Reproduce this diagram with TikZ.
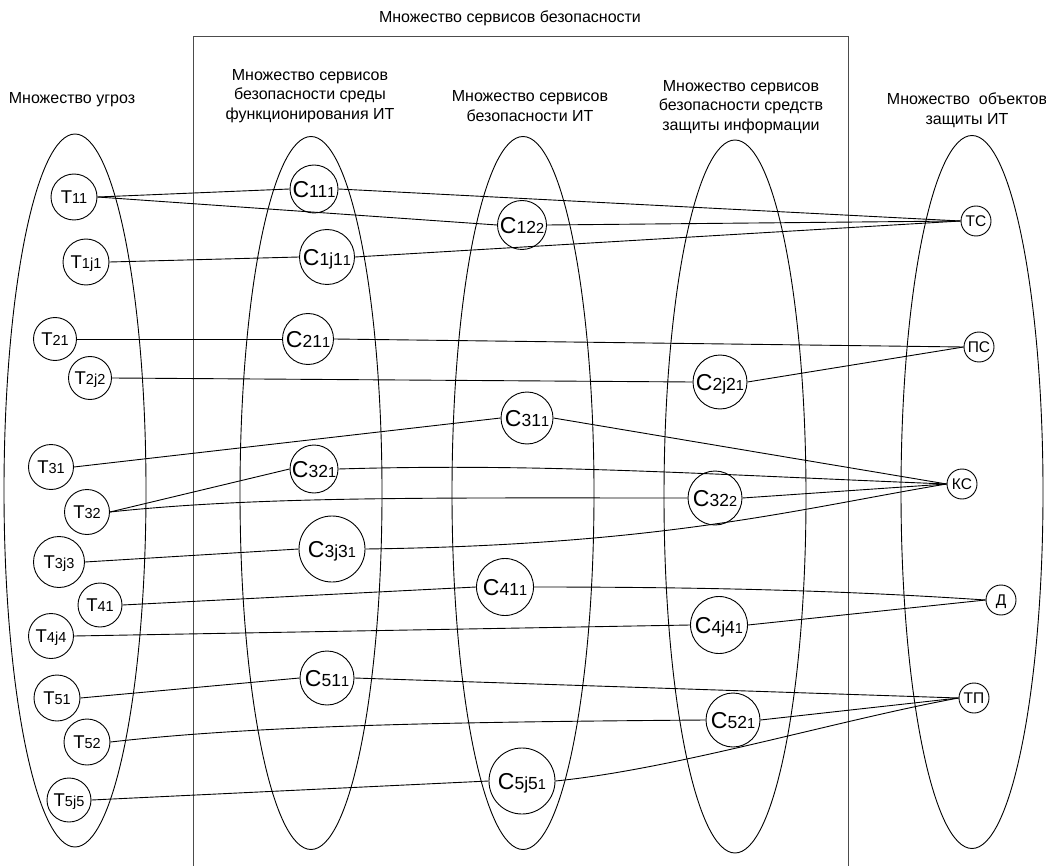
\documentclass[tikz,border=0pt]{standalone}
\usepackage{fontspec}
\setmainfont{Liberation Sans}
\newcommand{\tlbl}[1]{{\fontsize{18.5}{18.5}\selectfont Т}{\fontsize{14.5}{14.5}\selectfont #1}}
\newcommand{\slbl}[2]{{\fontsize{23}{23}\selectfont С}{\fontsize{17.5}{17.5}\selectfont #1}{\fontsize{14.5}{14.5}\selectfont #2}}
\begin{document}
\begin{tikzpicture}[x=1pt,y=-1pt,line width=0.9pt,
  thr/.style={draw,circle,inner sep=0pt,text height=13pt,text depth=0pt},
  svc/.style={draw,circle,inner sep=0pt,text height=16.5pt,text depth=0pt},
  obj/.style={draw,circle,inner sep=0pt,minimum size=30,text height=11pt,text depth=0pt,font=\fontsize{15.5}{15.5}\selectfont},
  hdr/.style={align=center,inner sep=0pt,font=\fontsize{16}{19.5}\selectfont},
  frame/.style={draw=black!70,line width=1pt}]
\useasboundingbox (0,0) rectangle (1046,866);
\draw[frame] (193,866) |- (848,37) -- (848,866);
\foreach \x/\y in {75/490.5,311/493,523/493,735/496.5,972/492}
  \draw (\x,\y) ellipse [x radius=71,y radius=356.5];
\node[hdr] (tAll) at (510,18) {Множество сервисов безопасности};
\node[hdr] (tThr) at (72,100) {Множество угроз};
\node[hdr] (tEnv) at (310,96) {Множество сервисов\\безопасности среды\\функционирования ИТ};
\node[hdr] (tIT) at (530,106) {Множество сервисов\\безопасности ИТ};
\node[hdr] (tSzi) at (741,107) {Множество сервисов\\безопасности средств\\защиты информации};
\node[hdr] (tObj) at (967,110) {Множество\ \ объектов\\защиты ИТ};
\foreach \n/\x/\y/\d/\l in {t11/74/197/46/11,t1j1/86/262/46/1j1,t21/55/339/43/21,t2j2/90/378/43/2j2,
  t31/51/467/45/31,t32/87/512/45/32,t3j3/59/562/51/3j3,t41/100/605/44/41,t4j4/51/636/45/4j4,
  t51/57/698/46/51,t52/87/742/46/52,t5j5/69/800/44/5j5}
  \node[thr,minimum size=\d] (\n) at (\x,\y) {\tlbl{\l}};
\foreach \n/\x/\y/\d/\l/\k in {c111/314/189/48/11/1,c1j11/327/257/55/1j1/1,c211/308/339/51/21/1,
  c321/314/469/48/32/1,c3j31/332/549/66/3j3/1,c511/327/678/54/51/1,
  c122/522/225/49/12/2,c311/527/418/52/31/1,c411/505/587/57/41/1,c5j51/522/781/66/5j5/1,
  c2j21/720/382/54/2j2/1,c322/715/498/54/32/2,c4j41/719/625/57/4j4/1,c521/733/720/54/52/1}
  \node[svc,minimum size=\d] (\n) at (\x,\y) {\slbl{\l}{\k}};
\foreach \n/\x/\y/\l in {ts/976/221/ТС,ps/979/347/ПС,ks/962/484/КС,d/1001/600/Д,tp/974/698/ТП}
  \node[obj] (\n) at (\x,\y) {\l};
\foreach \a/\b in {t11/c111,t11/c122,t1j1/c1j11,t21/c211,t2j2/c2j21,t31/c311,t32/c321,
  t3j3/c3j31,t41/c411,t4j4/c4j41,t51/c511,t5j5/c5j51,
  c111/ts,c122/ts,c1j11/ts,c211/ps,c2j21/ps,c311/ks,c322/ks,c4j41/d,c511/tp,c521/tp}
  \draw (\a.east) -- (\b.west);
%\draw (c211.east) -- (ps.west);
\draw (t32.east) .. controls +(150,-16) and +(-250,0) .. (c322.west);
\draw (c321.east) .. controls +(200,-6) and +(-250,-10) .. (ks.west);
\draw (c3j31.east) .. controls +(300,-4) and +(-150,25) .. (ks.west);
\draw (c411.east) .. controls +(200,0) and +(-120,-8) .. (d.west);
\draw (t52.east) .. controls +(150,-17) and +(-250,2) .. (c521.west);
\draw (c5j51.east) .. controls +(120,-12) and +(-120,22) .. (tp.west);
\end{tikzpicture}
\end{document}
